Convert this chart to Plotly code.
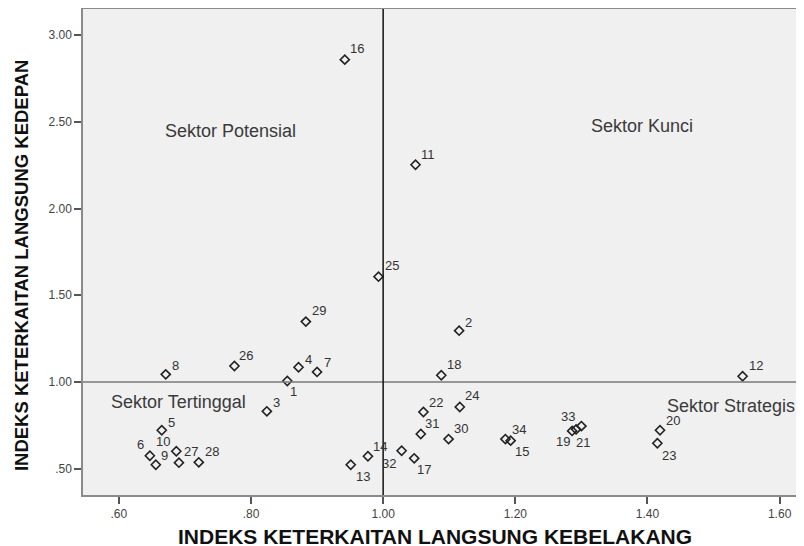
import plotly.graph_objects as go

# Sector numbers and their linkage indices
sectors = ["1", "2", "3", "4", "5", "6", "7", "8", "9", "10", "11", "12",
           "13", "14", "15", "16", "17", "18", "19", "20", "21", "22", "23",
           "24", "25", "26", "27", "28", "29", "30", "31", "32", "33", "34"]
backward = [0.855, 1.115, 0.824, 0.872, 0.665, 0.647, 0.900, 0.671, 0.656, 0.687,
            1.049, 1.544, 0.951, 0.977, 1.193, 0.942, 1.047, 1.088, 1.286, 1.419,
            1.300, 1.061, 1.415, 1.116, 0.993, 0.775, 0.691, 0.721, 0.883, 1.099,
            1.057, 1.028, 1.292, 1.185]
forward = [1.006, 1.296, 0.831, 1.085, 0.722, 0.575, 1.058, 1.044, 0.523, 0.601,
           2.252, 1.033, 0.523, 0.572, 0.662, 2.858, 0.560, 1.039, 0.718, 0.722,
           0.746, 0.827, 0.647, 0.856, 1.607, 1.092, 0.535, 0.537, 1.348, 0.671,
           0.700, 0.604, 0.727, 0.671]

x_ticks = [0.6, 0.8, 1.0, 1.2, 1.4, 1.6]
x_tick_text = [".60", ".80", "1.00", "1.20", "1.40", "1.60"]
y_ticks = [0.5, 1.0, 1.5, 2.0, 2.5, 3.0]
y_tick_text = [".50", "1.00", "1.50", "2.00", "2.50", "3.00"]

quadrants = ["Sektor Potensial", "Sektor Kunci", "Sektor Tertinggal", "Sektor Strategis"]

# label offsets in pixels (dx right, dy up) — styling only
label_offsets = {
    "1": (6, -11), "2": (9, 8), "3": (10, 9), "4": (10, 8), "5": (10, 8),
    "6": (-9, 11), "7": (10, 9), "8": (10, 9), "9": (9, 9), "10": (-13, 10),
    "11": (12, 10), "12": (13, 11), "13": (12, -12), "14": (12, 10),
    "15": (11, -11), "16": (12, 11), "17": (10, -11), "18": (13, 11),
    "19": (-9, -11), "20": (13, 10), "21": (2, -16), "22": (13, 10),
    "23": (12, -12), "24": (12, 11), "25": (13, 11), "26": (12, 11),
    "27": (12, 11), "28": (13, 11), "29": (13, 11), "30": (12, 11),
    "31": (11, 11), "32": (-13, -13), "33": (-8, 13), "34": (14, 10),
}
quad_pos = [(0.769, 2.447), (1.391, 2.476), (0.690, 0.885), (1.526, 0.862)]

fig = go.Figure()
fig.add_trace(go.Scatter(
    x=backward, y=forward, mode="markers",
    marker=dict(symbol="diamond-open", size=7, color="#222222",
                line=dict(width=1.6, color="#222222")),
    hoverinfo="skip", showlegend=False,
))

annotations = []
for s, xv, yv in zip(sectors, backward, forward):
    dx, dy = label_offsets[s]
    annotations.append(dict(x=xv, y=yv, xref="x", yref="y", text=s,
                            showarrow=False, xshift=dx, yshift=dy,
                            font=dict(family="Arial", size=13, color="#333333")))
for q, (qx, qy) in zip(quadrants, quad_pos):
    annotations.append(dict(x=qx, y=qy, xref="x", yref="y", text=q,
                            showarrow=False,
                            font=dict(family="Arial", size=18, color="#3a3a3a")))

annotations.append(dict(x=0.488, y=-0.086, xref="paper", yref="paper",
                        text="<b>INDEKS KETERKAITAN LANGSUNG KEBELAKANG</b>",
                        showarrow=False, yanchor="middle",
                        font=dict(family="Arial", size=21, color="#111111")))
annotations.append(dict(x=-0.086, y=0.473, xref="paper", yref="paper",
                        text="<b>INDEKS KETERKAITAN LANGSUNG KEDEPAN</b>",
                        showarrow=False, textangle=-90, xanchor="center",
                        font=dict(family="Arial", size=18.5, color="#111111")))

shapes = [
    dict(type="line", xref="paper", yref="y", x0=0, x1=1, y0=1, y1=1,
         line=dict(color="#7a7a7a", width=1.5)),
    dict(type="line", xref="x", yref="paper", x0=1, x1=1, y0=0, y1=1,
         line=dict(color="#111111", width=1.5)),
]

fig.update_layout(
    width=796, height=538,
    margin=dict(l=75, r=0, t=1, b=51),
    paper_bgcolor="white", plot_bgcolor="#f0f0f0",
    annotations=annotations, shapes=shapes,
    xaxis=dict(range=[0.5458, 1.6369], tickvals=x_ticks, ticktext=x_tick_text,
               showgrid=False, zeroline=False, showline=True, mirror=True,
               linecolor="#8a8a8a", linewidth=1.5, ticks="outside", ticklen=7,
               tickcolor="#555555", tickwidth=1.5,
               tickfont=dict(family="Arial", size=12, color="#444444")),
    yaxis=dict(range=[0.3487, 3.1499], tickvals=y_ticks, ticktext=y_tick_text,
               showgrid=False, zeroline=False, showline=True,
               linecolor="#8a8a8a", linewidth=1.5, ticks="outside", ticklen=7,
               tickcolor="#555555", tickwidth=1.5,
               tickfont=dict(family="Arial", size=12, color="#444444")),
)

fig.write_html("out.html")
